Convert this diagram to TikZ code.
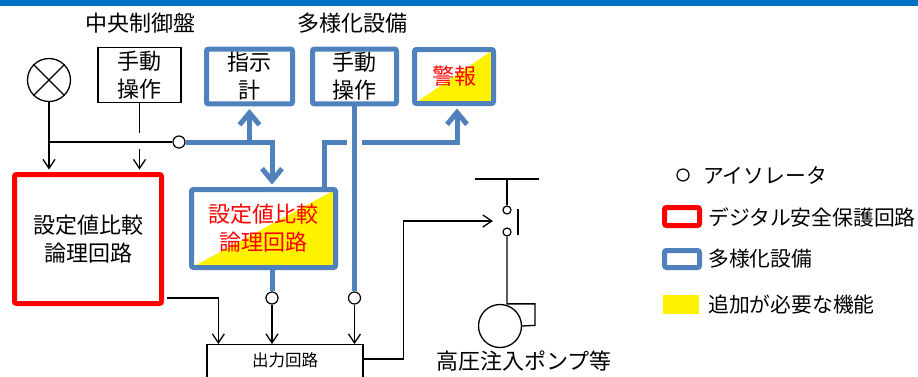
\documentclass[tikz,border=0pt]{standalone}
\usepackage{fontspec}
\setmainfont{Noto Sans CJK JP}
\usetikzlibrary{arrows.meta}
\definecolor{divblue}{RGB}{79,129,189}
\definecolor{bandblue}{RGB}{0,112,192}
\tikzset{ctrl/.style={rectangle, draw, line width=1.5pt, align=center}}
\tikzset{dsp/.style={rectangle, rounded corners=2pt, draw=red, line width=5pt, align=center}}
\tikzset{div/.style={rectangle, rounded corners=2pt, draw=divblue, line width=5pt, align=center}}
\tikzset{added/.style={path picture={
   \fill[yellow] (path picture bounding box.south west) -- (path picture bounding box.north east)
      -- (path picture bounding box.south east) -- cycle;}}}
\tikzset{iso/.style={circle, draw, fill=white, line width=1.2pt, minimum size=12pt, inner sep=0pt}}
\tikzset{lamp/.style={circle, draw, line width=1.3pt, minimum size=43pt, inner sep=0pt}}
\tikzset{outbox/.style={
   rectangle, draw, line width=1.3pt, anchor=north,
   minimum width=156pt, inner sep=0pt,
   text height=22pt, text depth=30pt,
   font=\fontsize{16.5}{20}\selectfont
}}
\tikzset{wire/.style={line width=1.3pt}}
\tikzset{sig/.style={wire, -{Straight Barb[length=9pt,width=12pt]}}}
\tikzset{bus/.style={draw=divblue, line width=5pt}}
\tikzset{busarrow/.style={bus, -{Straight Barb[length=12pt,width=20pt]}}}
\tikzset{legend/.style={anchor=west, inner sep=0pt, font=\fontsize{20.8}{25}\selectfont}}

\begin{document}
\begin{tikzpicture}[x=1pt, y=-1pt, font=\fontsize{22}{28}\selectfont]

    \useasboundingbox (0,0) rectangle (918,376);
    \fill[bandblue] (0,0) rectangle (918,6);

    \node (tctrl) at (140,23) {中央制御盤};
    \node (tdiv)  at (352,23) {多様化設備};

    \node[lamp] (lamp) at (49,80) {};
    \draw[wire] (lamp.north west) -- (lamp.south east) (lamp.north east) -- (lamp.south west);
    \node[ctrl, minimum width=83pt, minimum height=52pt]  (cman)    at (139.5,75) {手動\\操作};
    \node[dsp, minimum width=147pt, minimum height=129pt] (dslogic) at (88,239)   {設定値比較\\論理回路};

    \node[div, minimum width=86pt, minimum height=54pt] (ind)  at (249.5,76.5) {指示\\計};
    \node[div, minimum width=84pt, minimum height=54pt] (dman) at (354.5,76.5) {手動\\操作};
    \node[div, added, text=red, minimum width=79pt, minimum height=54pt]  (alarm)  at (454,76.5)    {警報};
    \node[div, added, text=red, minimum width=144pt, minimum height=78pt] (dlogic) at (263.5,228.5) {設定値比較\\論理回路};

    \node[iso] (iso1) at (179,142) {};
    \node[iso] (iso2) at (272,298) {};
    \node[iso] (iso3) at (354.5,298) {};

    \coordinate (j1) at (272,142);
    \coordinate (j2) at (324,142);
    \coordinate (j3) at (347,142);
    \coordinate (j4) at (362,142);
    \coordinate (j5) at (457,142);

    \draw[sig, shorten >=2.5pt] (lamp.south) -- (lamp.south |- dslogic.north);
    \draw[wire] (lamp.south |- iso1) -- (iso1.west);
    \draw[wire] (cman.south) -- ([yshift=9pt]cman.south |- iso1);
    \draw[sig, shorten >=2.5pt] ([yshift=-7pt]cman.south |- iso1) -- (cman.south |- dslogic.north);

    \draw[busarrow, shorten >=2.5pt] (iso1.east) -- (j1) -- (j1 |- dlogic.north);
    \draw[busarrow, shorten >=2.5pt] (ind.south |- iso1) -- (ind.south);
    \draw[bus] (j2 |- dlogic.north) -- (j2) -- (j3);
    \draw[busarrow, shorten >=2.5pt] (j4) -- (j5) -- (j5 |- alarm.south);
    \draw[bus] (dman.south) -- (iso3.north);
    \draw[bus] (iso2 |- dlogic.south) -- (iso2.north);

    \node[outbox] (out) at (285,344) {出力回路};
    \draw[sig] (iso2.south) -- (iso2 |- out.north);
    \draw[sig] (iso3.south) -- (iso3 |- out.north);
    \draw[sig] ([yshift=8pt, xshift=2.5pt]dslogic.south east) -| ([xshift=12pt]out.north west);

    \coordinate (swin) at (493,221);
    \coordinate (bl) at (475,179);
    \coordinate (br) at (539,179);
    \coordinate (ct) at (518,209);
    \coordinate (cb) at (518,235);
    \node[iso, minimum size=8pt] (sw1) at (507,210) {};
    \node[iso, minimum size=8pt] (sw2) at (507,232) {};
    \draw[sig] ([yshift=-15pt]out.north east) -- ++(40,0) |- (swin);
    \draw[wire] (bl) -- (br);
    \draw[wire] (sw1.north |- bl) -- (sw1.north);
    \draw[wire] (ct) -- (cb);

    \node[lamp] (pump) at (500,326) {};
    \draw[wire] (sw2.south) -- (sw2.south |- pump.north) -- ++(28,0) -- ++(0,21.5) -- (pump.east);
    \node (pumplbl) at (524,361) {高圧注入ポンプ等};

    \node[iso] (lgiso) at (683,175) {};
    \node[legend] (lgisot) at (703,175) {アイソレータ};
    \node[dsp, minimum width=35pt, minimum height=18pt, inner sep=0pt] (lgds) at (682,216.5) {};
    \node[legend] (lgdst) at (708,217) {デジタル安全保護回路};
    \node[div, minimum width=35pt, minimum height=17pt, inner sep=0pt] (lgdiv) at (682,259) {};
    \node[legend] (lgdivt) at (708,259) {多様化設備};
    \node[fill=yellow, minimum width=36pt, minimum height=19pt, inner sep=0pt] (lgadd) at (681,304.5) {};
    \node[legend] (lgaddt) at (708,305) {追加が必要な機能};

\end{tikzpicture}
\end{document}
